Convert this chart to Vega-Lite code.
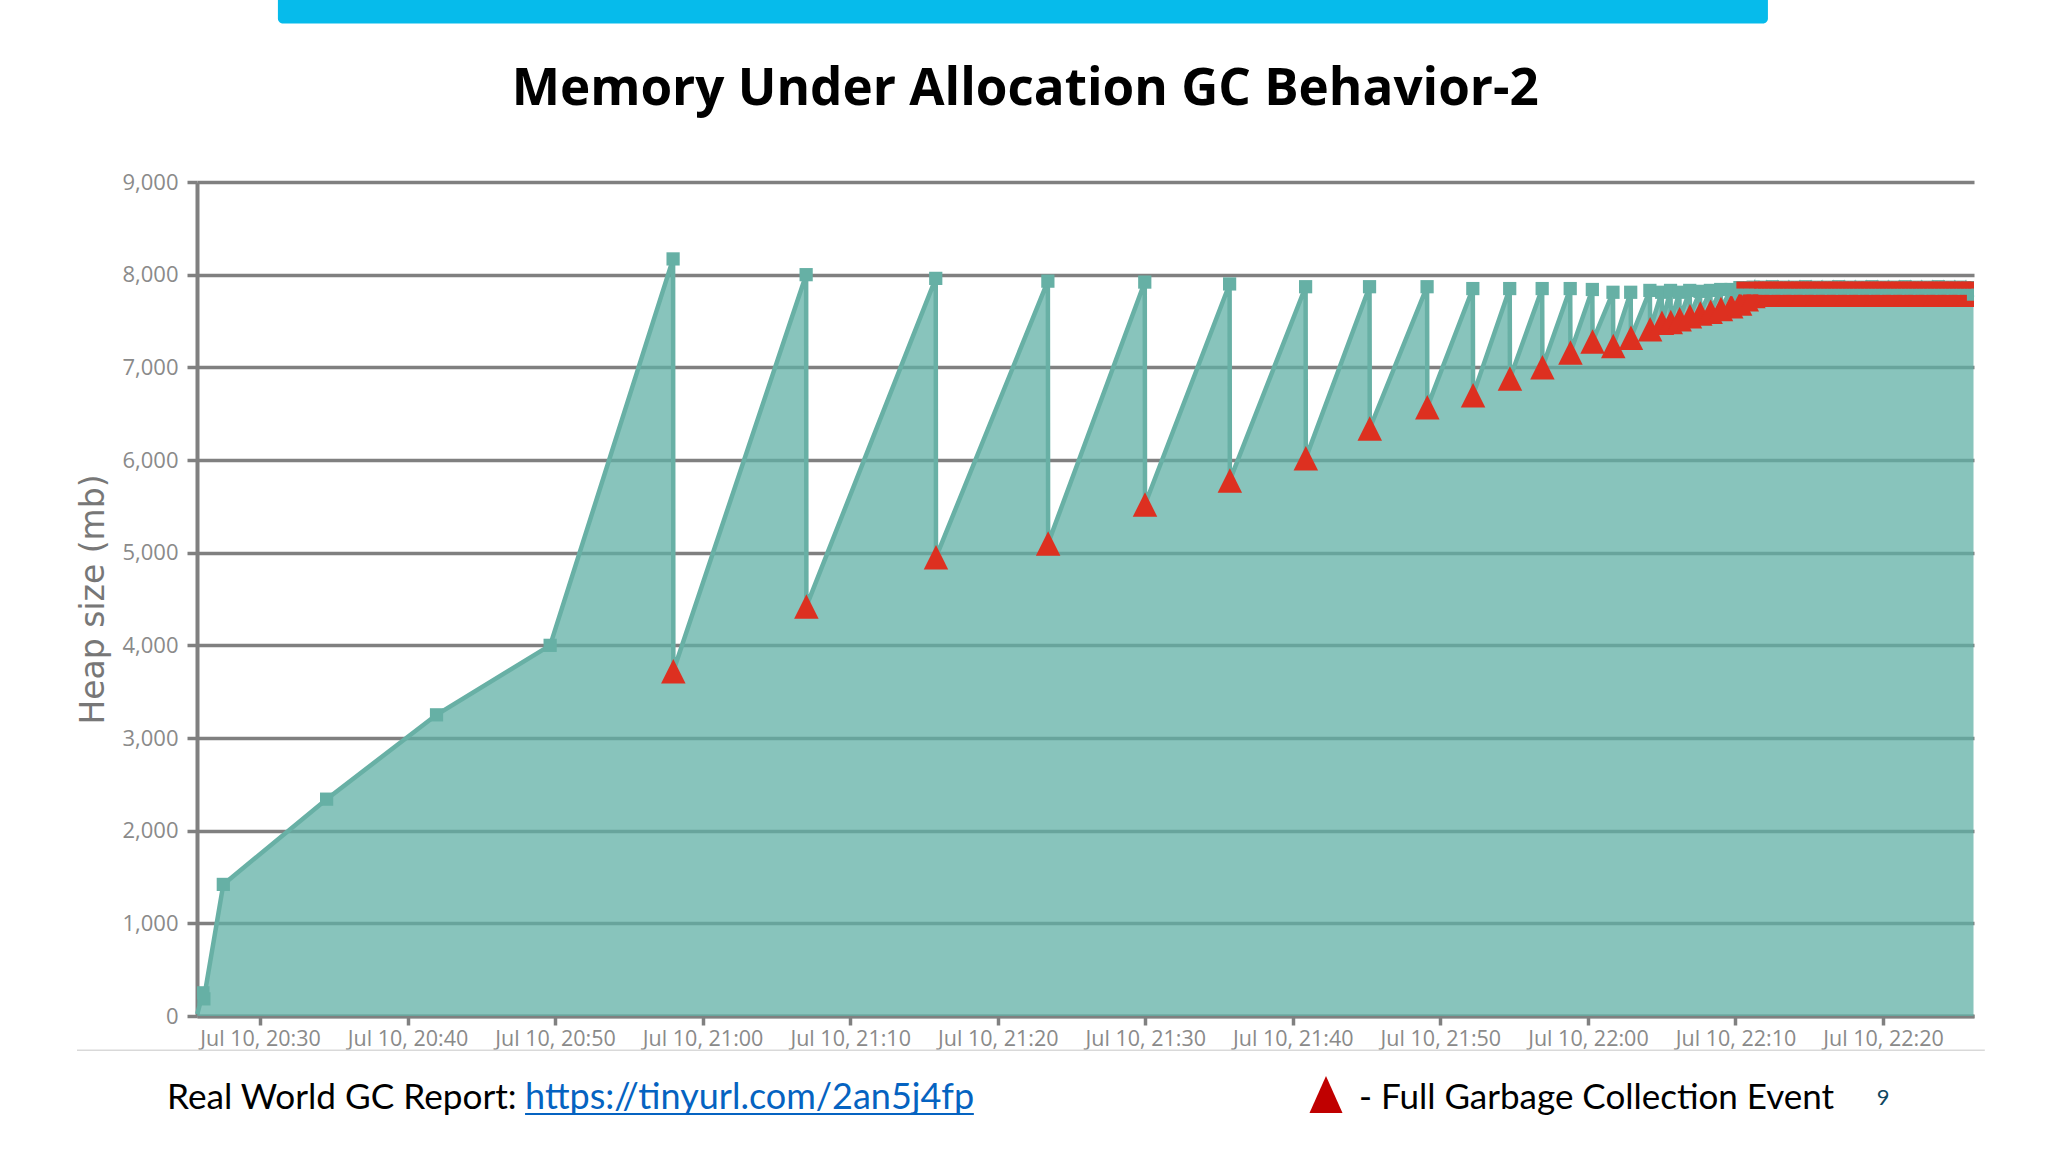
{
"$schema":"https://vega.github.io/schema/vega-lite/v6.json",
"autosize":{"type":"none"},
"padding":{"left":197,"top":182,"right":74,"bottom":136},
"width":1777,"height":834,
"background":"white",
"config":{"view":{"stroke":null}},
"resolve":{"axis":{"x":"independent","y":"independent"}},
"datasets":{"heap":[
{"t":"2023-07-10T20:25:45Z","v":20,"k":"start"},{"t":"2023-07-10T20:26:08Z","v":250,"k":"heap"},{"t":"2023-07-10T20:26:12Z","v":185,"k":"heap"},{"t":"2023-07-10T20:27:31Z","v":1420,"k":"heap"},{"t":"2023-07-10T20:34:31Z","v":2340,"k":"heap"},{"t":"2023-07-10T20:41:58Z","v":3250,"k":"heap"},{"t":"2023-07-10T20:49:40Z","v":4000,"k":"heap"},
{"t":"2023-07-10T20:58:00Z","v":8170,"k":"heap"},{"t":"2023-07-10T20:58:01Z","v":3720,"k":"gc"},
{"t":"2023-07-10T21:07:01Z","v":8000,"k":"heap"},{"t":"2023-07-10T21:07:02Z","v":4420,"k":"gc"},
{"t":"2023-07-10T21:15:48Z","v":7960,"k":"heap"},{"t":"2023-07-10T21:15:49Z","v":4950,"k":"gc"},
{"t":"2023-07-10T21:23:24Z","v":7930,"k":"heap"},{"t":"2023-07-10T21:23:25Z","v":5100,"k":"gc"},
{"t":"2023-07-10T21:29:58Z","v":7920,"k":"heap"},{"t":"2023-07-10T21:29:59Z","v":5520,"k":"gc"},
{"t":"2023-07-10T21:35:43Z","v":7900,"k":"heap"},{"t":"2023-07-10T21:35:44Z","v":5780,"k":"gc"},
{"t":"2023-07-10T21:40:52Z","v":7870,"k":"heap"},{"t":"2023-07-10T21:40:53Z","v":6020,"k":"gc"},
{"t":"2023-07-10T21:45:12Z","v":7870,"k":"heap"},{"t":"2023-07-10T21:45:13Z","v":6340,"k":"gc"},
{"t":"2023-07-10T21:49:06Z","v":7870,"k":"heap"},{"t":"2023-07-10T21:49:07Z","v":6570,"k":"gc"},
{"t":"2023-07-10T21:52:12Z","v":7850,"k":"heap"},{"t":"2023-07-10T21:52:13Z","v":6700,"k":"gc"},
{"t":"2023-07-10T21:54:42Z","v":7850,"k":"heap"},{"t":"2023-07-10T21:54:43Z","v":6880,"k":"gc"},
{"t":"2023-07-10T21:56:54Z","v":7850,"k":"heap"},{"t":"2023-07-10T21:56:55Z","v":7000,"k":"gc"},
{"t":"2023-07-10T21:58:48Z","v":7850,"k":"heap"},{"t":"2023-07-10T21:58:49Z","v":7160,"k":"gc"},
{"t":"2023-07-10T22:00:18Z","v":7840,"k":"heap"},{"t":"2023-07-10T22:00:19Z","v":7280,"k":"gc"},
{"t":"2023-07-10T22:01:42Z","v":7810,"k":"heap"},{"t":"2023-07-10T22:01:43Z","v":7230,"k":"gc"},
{"t":"2023-07-10T22:02:54Z","v":7810,"k":"heap"},{"t":"2023-07-10T22:02:55Z","v":7320,"k":"gc"},
{"t":"2023-07-10T22:04:12Z","v":7830,"k":"heap"},{"t":"2023-07-10T22:04:13Z","v":7410,"k":"gc"},
{"t":"2023-07-10T22:05:00Z","v":7810,"k":"heap"},{"t":"2023-07-10T22:05:01Z","v":7480,"k":"gc"},
{"t":"2023-07-10T22:05:36Z","v":7830,"k":"heap"},{"t":"2023-07-10T22:05:37Z","v":7490,"k":"gc"},
{"t":"2023-07-10T22:06:12Z","v":7810,"k":"heap"},{"t":"2023-07-10T22:06:13Z","v":7520,"k":"gc"},
{"t":"2023-07-10T22:06:54Z","v":7830,"k":"heap"},{"t":"2023-07-10T22:06:55Z","v":7550,"k":"gc"},
{"t":"2023-07-10T22:07:36Z","v":7820,"k":"heap"},{"t":"2023-07-10T22:07:37Z","v":7580,"k":"gc"},
{"t":"2023-07-10T22:08:18Z","v":7830,"k":"heap"},{"t":"2023-07-10T22:08:19Z","v":7600,"k":"gc"},
{"t":"2023-07-10T22:09:00Z","v":7840,"k":"heap"},{"t":"2023-07-10T22:09:01Z","v":7630,"k":"gc"},
{"t":"2023-07-10T22:09:42Z","v":7840,"k":"heap"},{"t":"2023-07-10T22:09:43Z","v":7660,"k":"gc"},
{"t":"2023-07-10T22:10:18Z","v":7860,"k":"sat"},{"t":"2023-07-10T22:10:19Z","v":7690,"k":"gc"},
{"t":"2023-07-10T22:10:45Z","v":7860,"k":"sat"},{"t":"2023-07-10T22:10:46Z","v":7735,"k":"gc"},
{"t":"2023-07-10T22:11:12Z","v":7865,"k":"sat"},{"t":"2023-07-10T22:11:13Z","v":7770,"k":"gc"},
{"t":"2023-07-10T22:11:30Z","v":7860,"k":"sat"},{"t":"2023-07-10T22:11:31Z","v":7782,"k":"gc"},
{"t":"2023-07-10T22:11:45Z","v":7865,"k":"sat"},{"t":"2023-07-10T22:11:46Z","v":7782,"k":"gc"},
{"t":"2023-07-10T22:12:00Z","v":7855,"k":"sat"},{"t":"2023-07-10T22:12:01Z","v":7782,"k":"gc"},
{"t":"2023-07-10T22:12:15Z","v":7860,"k":"sat"},{"t":"2023-07-10T22:12:16Z","v":7782,"k":"gc"},
{"t":"2023-07-10T22:12:30Z","v":7870,"k":"sat"},{"t":"2023-07-10T22:12:31Z","v":7782,"k":"gc"},
{"t":"2023-07-10T22:12:45Z","v":7855,"k":"sat"},{"t":"2023-07-10T22:12:46Z","v":7782,"k":"gc"},
{"t":"2023-07-10T22:13:00Z","v":7860,"k":"sat"},{"t":"2023-07-10T22:13:01Z","v":7782,"k":"gc"},
{"t":"2023-07-10T22:13:15Z","v":7865,"k":"sat"},{"t":"2023-07-10T22:13:16Z","v":7782,"k":"gc"},
{"t":"2023-07-10T22:13:30Z","v":7855,"k":"sat"},{"t":"2023-07-10T22:13:31Z","v":7782,"k":"gc"},
{"t":"2023-07-10T22:13:45Z","v":7860,"k":"sat"},{"t":"2023-07-10T22:13:46Z","v":7782,"k":"gc"},
{"t":"2023-07-10T22:14:00Z","v":7865,"k":"sat"},{"t":"2023-07-10T22:14:01Z","v":7782,"k":"gc"},
{"t":"2023-07-10T22:14:15Z","v":7855,"k":"sat"},{"t":"2023-07-10T22:14:16Z","v":7782,"k":"gc"},
{"t":"2023-07-10T22:14:30Z","v":7860,"k":"sat"},{"t":"2023-07-10T22:14:31Z","v":7782,"k":"gc"},
{"t":"2023-07-10T22:14:45Z","v":7870,"k":"sat"},{"t":"2023-07-10T22:14:46Z","v":7782,"k":"gc"},
{"t":"2023-07-10T22:15:00Z","v":7855,"k":"sat"},{"t":"2023-07-10T22:15:01Z","v":7782,"k":"gc"},
{"t":"2023-07-10T22:15:15Z","v":7860,"k":"sat"},{"t":"2023-07-10T22:15:16Z","v":7782,"k":"gc"},
{"t":"2023-07-10T22:15:30Z","v":7865,"k":"sat"},{"t":"2023-07-10T22:15:31Z","v":7782,"k":"gc"},
{"t":"2023-07-10T22:15:45Z","v":7855,"k":"sat"},{"t":"2023-07-10T22:15:46Z","v":7782,"k":"gc"},
{"t":"2023-07-10T22:16:00Z","v":7860,"k":"sat"},{"t":"2023-07-10T22:16:01Z","v":7782,"k":"gc"},
{"t":"2023-07-10T22:16:15Z","v":7865,"k":"sat"},{"t":"2023-07-10T22:16:16Z","v":7782,"k":"gc"},
{"t":"2023-07-10T22:16:30Z","v":7855,"k":"sat"},{"t":"2023-07-10T22:16:31Z","v":7782,"k":"gc"},
{"t":"2023-07-10T22:16:45Z","v":7860,"k":"sat"},{"t":"2023-07-10T22:16:46Z","v":7782,"k":"gc"},
{"t":"2023-07-10T22:17:00Z","v":7870,"k":"sat"},{"t":"2023-07-10T22:17:01Z","v":7782,"k":"gc"},
{"t":"2023-07-10T22:17:15Z","v":7855,"k":"sat"},{"t":"2023-07-10T22:17:16Z","v":7782,"k":"gc"},
{"t":"2023-07-10T22:17:30Z","v":7860,"k":"sat"},{"t":"2023-07-10T22:17:31Z","v":7782,"k":"gc"},
{"t":"2023-07-10T22:17:45Z","v":7865,"k":"sat"},{"t":"2023-07-10T22:17:46Z","v":7782,"k":"gc"},
{"t":"2023-07-10T22:18:00Z","v":7855,"k":"sat"},{"t":"2023-07-10T22:18:01Z","v":7782,"k":"gc"},
{"t":"2023-07-10T22:18:15Z","v":7860,"k":"sat"},{"t":"2023-07-10T22:18:16Z","v":7782,"k":"gc"},
{"t":"2023-07-10T22:18:30Z","v":7865,"k":"sat"},{"t":"2023-07-10T22:18:31Z","v":7782,"k":"gc"},
{"t":"2023-07-10T22:18:45Z","v":7855,"k":"sat"},{"t":"2023-07-10T22:18:46Z","v":7782,"k":"gc"},
{"t":"2023-07-10T22:19:00Z","v":7860,"k":"sat"},{"t":"2023-07-10T22:19:01Z","v":7782,"k":"gc"},
{"t":"2023-07-10T22:19:15Z","v":7870,"k":"sat"},{"t":"2023-07-10T22:19:16Z","v":7782,"k":"gc"},
{"t":"2023-07-10T22:19:30Z","v":7855,"k":"sat"},{"t":"2023-07-10T22:19:31Z","v":7782,"k":"gc"},
{"t":"2023-07-10T22:19:45Z","v":7860,"k":"sat"},{"t":"2023-07-10T22:19:46Z","v":7782,"k":"gc"},
{"t":"2023-07-10T22:20:00Z","v":7865,"k":"sat"},{"t":"2023-07-10T22:20:01Z","v":7782,"k":"gc"},
{"t":"2023-07-10T22:20:15Z","v":7855,"k":"sat"},{"t":"2023-07-10T22:20:16Z","v":7782,"k":"gc"},
{"t":"2023-07-10T22:20:30Z","v":7860,"k":"sat"},{"t":"2023-07-10T22:20:31Z","v":7782,"k":"gc"},
{"t":"2023-07-10T22:20:45Z","v":7865,"k":"sat"},{"t":"2023-07-10T22:20:46Z","v":7782,"k":"gc"},
{"t":"2023-07-10T22:21:00Z","v":7855,"k":"sat"},{"t":"2023-07-10T22:21:01Z","v":7782,"k":"gc"},
{"t":"2023-07-10T22:21:15Z","v":7860,"k":"sat"},{"t":"2023-07-10T22:21:16Z","v":7782,"k":"gc"},
{"t":"2023-07-10T22:21:30Z","v":7870,"k":"sat"},{"t":"2023-07-10T22:21:31Z","v":7782,"k":"gc"},
{"t":"2023-07-10T22:21:45Z","v":7855,"k":"sat"},{"t":"2023-07-10T22:21:46Z","v":7782,"k":"gc"},
{"t":"2023-07-10T22:22:00Z","v":7860,"k":"sat"},{"t":"2023-07-10T22:22:01Z","v":7782,"k":"gc"},
{"t":"2023-07-10T22:22:15Z","v":7865,"k":"sat"},{"t":"2023-07-10T22:22:16Z","v":7782,"k":"gc"},
{"t":"2023-07-10T22:22:30Z","v":7855,"k":"sat"},{"t":"2023-07-10T22:22:31Z","v":7782,"k":"gc"},
{"t":"2023-07-10T22:22:45Z","v":7860,"k":"sat"},{"t":"2023-07-10T22:22:46Z","v":7782,"k":"gc"},
{"t":"2023-07-10T22:23:00Z","v":7865,"k":"sat"},{"t":"2023-07-10T22:23:01Z","v":7782,"k":"gc"},
{"t":"2023-07-10T22:23:15Z","v":7855,"k":"sat"},{"t":"2023-07-10T22:23:16Z","v":7782,"k":"gc"},
{"t":"2023-07-10T22:23:30Z","v":7860,"k":"sat"},{"t":"2023-07-10T22:23:31Z","v":7782,"k":"gc"},
{"t":"2023-07-10T22:23:45Z","v":7870,"k":"sat"},{"t":"2023-07-10T22:23:46Z","v":7782,"k":"gc"},
{"t":"2023-07-10T22:24:00Z","v":7855,"k":"sat"},{"t":"2023-07-10T22:24:01Z","v":7782,"k":"gc"},
{"t":"2023-07-10T22:24:15Z","v":7860,"k":"sat"},{"t":"2023-07-10T22:24:16Z","v":7782,"k":"gc"},
{"t":"2023-07-10T22:24:30Z","v":7865,"k":"sat"},{"t":"2023-07-10T22:24:31Z","v":7782,"k":"gc"},
{"t":"2023-07-10T22:24:45Z","v":7855,"k":"sat"},{"t":"2023-07-10T22:24:46Z","v":7782,"k":"gc"},
{"t":"2023-07-10T22:25:00Z","v":7860,"k":"sat"},{"t":"2023-07-10T22:25:01Z","v":7782,"k":"gc"},
{"t":"2023-07-10T22:25:15Z","v":7865,"k":"sat"},{"t":"2023-07-10T22:25:16Z","v":7782,"k":"gc"},
{"t":"2023-07-10T22:25:30Z","v":7855,"k":"sat"},{"t":"2023-07-10T22:25:31Z","v":7782,"k":"gc"},
{"t":"2023-07-10T22:25:45Z","v":7860,"k":"sat"},{"t":"2023-07-10T22:25:46Z","v":7782,"k":"gc"},
{"t":"2023-07-10T22:26:00Z","v":7860,"k":"sat"},{"t":"2023-07-10T22:26:01Z","v":7782,"k":"gc"},
{"t":"2023-07-10T22:26:08Z","v":7790,"k":"heap"}
]},
"layer":[
{"data":{"name":"heap"},
 "mark":{"type":"area","color":"#60B0A6","opacity":0.75},
 "encoding":{
  "x":{"field":"t","type":"temporal","title":null,
   "scale":{"type":"utc","domain":[1689020744000,1689027970000]},
   "axis":{"format":"%b %d, %H:%M","values":[1689021000000,1689021600000,1689022200000,1689022800000,1689023400000,1689024000000,1689024600000,1689025200000,1689025800000,1689026400000,1689027000000,1689027600000],"grid":false,
    "domainColor":"#808080","domainWidth":4,"tickColor":"#808080","tickWidth":3.5,"tickSize":9,
    "labelFont":"Open Sans","labelFontSize":21.5,"labelColor":"#8a8a8a","labelPadding":3}},
  "y":{"field":"v","type":"quantitative",
   "scale":{"domain":[0,9000],"nice":false},
   "axis":{"values":[0,1000,2000,3000,4000,5000,6000,7000,8000,9000],"format":",.0f","grid":true,"zindex":0,
    "gridColor":"#808080","gridWidth":3.6,"gridOpacity":1,
    "domainColor":"#808080","domainWidth":4,"tickColor":"#808080","tickWidth":3.5,"tickSize":10,
    "labelFont":"Open Sans","labelFontSize":22,"labelColor":"#8a8a8a","labelPadding":9,
    "title":"Heap size (mb)","titleFont":"DejaVu Sans","titleFontSize":33,"titleFontWeight":"normal","titleColor":"#777777","titleX":-104,"titleY":417,"titleBaseline":"middle"}}}},
{"data":{"name":"heap"},
 "mark":{"type":"line","color":"#68B0A5","strokeWidth":4.5},
 "encoding":{"x":{"field":"t","type":"temporal","scale":{"type":"utc"},"axis":null},"y":{"field":"v","type":"quantitative","axis":null}}},
{"data":{"name":"heap"},
 "transform":[{"filter":{"field":"k","equal":"gc"}}],
 "mark":{"type":"point","filled":true,"opacity":1,"clip":true,"shape":"M0,-1L1,1L-1,1Z","size":600,"color":"#DD3020"},
 "encoding":{"x":{"field":"t","type":"temporal","scale":{"type":"utc"},"axis":null},"y":{"field":"v","type":"quantitative","axis":null}}},
{"data":{"name":"heap"},
 "transform":[{"filter":{"field":"k","oneOf":["heap","sat"]}}],
 "mark":{"type":"point","filled":true,"opacity":1,"clip":true,"shape":"square","size":175,"color":"#66B0A5"},
 "encoding":{"x":{"field":"t","type":"temporal","scale":{"type":"utc"},"axis":null},"y":{"field":"v","type":"quantitative","axis":null}}},
{"data":{"name":"heap"},
 "transform":[{"filter":{"field":"k","equal":"sat"}}],
 "mark":{"type":"point","filled":true,"opacity":1,"clip":true,"shape":"square","size":49,"color":"#DD3020"},
 "encoding":{"x":{"field":"t","type":"temporal","scale":{"type":"utc"},"axis":null},"y":{"datum":7888,"scale":{"domain":[0,9000],"nice":false},"axis":null}}},
{"data":{"values":[{"label":"top bar"}]},
 "mark":{"type":"rect","color":"#06BBEB","cornerRadius":5},
 "encoding":{"x":{"datum":1689021073000,"type":"temporal","scale":{"type":"utc","domain":[1689020744000,1689027970000]},"axis":null},"x2":{"datum":1689027132000},
  "y":{"datum":11100,"type":"quantitative","scale":{"domain":[0,9000],"nice":false},"axis":null},"y2":{"datum":10710}}},
{"data":{"values":[{"label":"Memory Under Allocation GC Behavior-2"}]},
 "mark":{"type":"text","align":"center","baseline":"alphabetic","font":"Open Sans","fontWeight":"bold","fontSize":51.2,"color":"#000000"},
 "encoding":{"text":{"field":"label"},"x":{"datum":1689024112000,"type":"temporal","scale":{"type":"utc","domain":[1689020744000,1689027970000]},"axis":null},
  "y":{"datum":9830,"type":"quantitative","scale":{"domain":[0,9000],"nice":false},"axis":null}}},
{"data":{"values":[{"label":"footer rule"}]},
 "mark":{"type":"rule","color":"#D9D9D9","strokeWidth":1.5},
 "encoding":{"x":{"datum":1689020256000,"type":"temporal","scale":{"type":"utc","domain":[1689020744000,1689027970000]},"axis":null},"x2":{"datum":1689028014000},
  "y":{"datum":-369,"type":"quantitative","scale":{"domain":[0,9000],"nice":false},"axis":null}}},
{"data":{"values":[{"label":"Real World GC Report:"}]},
 "mark":{"type":"text","align":"left","baseline":"alphabetic","font":"Lato","fontSize":35.2,"color":"#000000"},
 "encoding":{"text":{"field":"label"},"x":{"datum":1689020622000,"type":"temporal","scale":{"type":"utc","domain":[1689020744000,1689027970000]},"axis":null},
  "y":{"datum":-1004,"type":"quantitative","scale":{"domain":[0,9000],"nice":false},"axis":null}}},
{"data":{"values":[{"label":"https://tinyurl.com/2an5j4fp"}]},
 "mark":{"type":"text","align":"left","baseline":"alphabetic","font":"Lato","fontSize":36,"color":"#0563C1"},
 "encoding":{"text":{"field":"label"},"x":{"datum":1689022078000,"type":"temporal","scale":{"type":"utc","domain":[1689020744000,1689027970000]},"axis":null},
  "y":{"datum":-1004,"type":"quantitative","scale":{"domain":[0,9000],"nice":false},"axis":null}}},
{"data":{"values":[{"label":"link underline"}]},
 "mark":{"type":"rule","color":"#0563C1","strokeWidth":2},
 "encoding":{"x":{"datum":1689022078000,"type":"temporal","scale":{"type":"utc","domain":[1689020744000,1689027970000]},"axis":null},"x2":{"datum":1689023903000},
  "y":{"datum":-1058,"type":"quantitative","scale":{"domain":[0,9000],"nice":false},"axis":null}}},
{"data":{"values":[{"label":"legend triangle"}]},
 "mark":{"type":"point","filled":true,"opacity":1,"shape":"M0,-1.12L1,1.12L-1,1.12Z","size":1089,"color":"#C00000"},
 "encoding":{"x":{"datum":1689025335000,"type":"temporal","scale":{"type":"utc","domain":[1689020744000,1689027970000]},"axis":null},
  "y":{"datum":-848,"type":"quantitative","scale":{"domain":[0,9000],"nice":false},"axis":null}}},
{"data":{"values":[{"label":"- Full Garbage Collection Event"}]},
 "mark":{"type":"text","align":"left","baseline":"alphabetic","font":"Lato","fontSize":35,"color":"#000000"},
 "encoding":{"text":{"field":"label"},"x":{"datum":1689025469000,"type":"temporal","scale":{"type":"utc","domain":[1689020744000,1689027970000]},"axis":null},
  "y":{"datum":-1004,"type":"quantitative","scale":{"domain":[0,9000],"nice":false},"axis":null}}},
{"data":{"values":[{"label":"9"}]},
 "mark":{"type":"text","align":"center","baseline":"alphabetic","font":"Lato","fontSize":22,"color":"#0F4761"},
 "encoding":{"text":{"field":"label"},"x":{"datum":1689027600000,"type":"temporal","scale":{"type":"utc","domain":[1689020744000,1689027970000]},"axis":null},
  "y":{"datum":-961,"type":"quantitative","scale":{"domain":[0,9000],"nice":false},"axis":null}}}
]
}
